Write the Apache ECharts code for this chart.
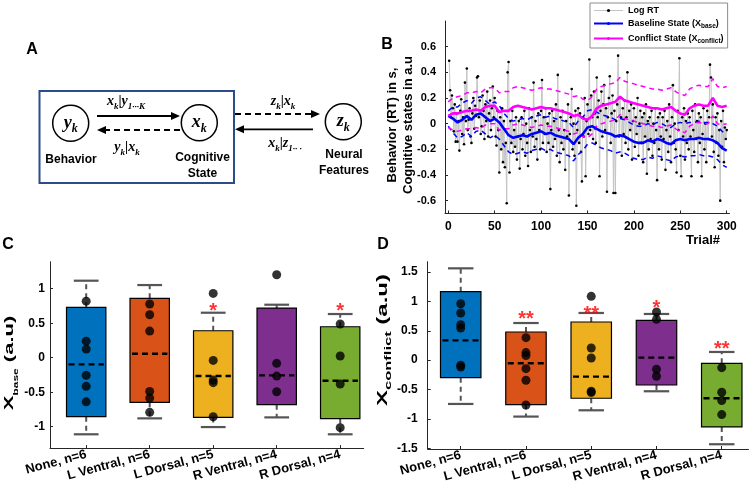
<!DOCTYPE html>
<html><head><meta charset="utf-8">
<script src="https://cdn.jsdelivr.net/npm/echarts@6/dist/echarts.min.js"></script>
<style>html,body{margin:0;padding:0;background:#fff}#c{width:750px;height:495px}</style>
</head><body><div id="c"></div>
<script>
// ---------- Panel B data ----------
const logRT = [
 0.49, 0.26, 0.05, 0.22, 0.12, -0.06, 0.15, -0.14, 0.08, -0.14,
 0.02, -0.21, 0.10, 0.19, -0.08, 0.05, -0.16, 0.32, 0.02, 0.43,
 -0.05, 0.03, 0.12, -0.10, -0.15, 0.08, 0.20, -0.04, 0.14, 0.06,
 0.36, 0.37, 0.05, 0.18, -0.08, -0.02, 0.22, 0.10, -0.12, 0.15,
 0.02, 0.25, -0.10, 0.08, 0.18, -0.05, 0.12, 0.29, 0.05, 0.20,
 -0.10, -0.17, 0.10, -0.05, -0.38, 0.05, -0.20, 0.12, -0.30, 0.02,
 -0.34, -0.15, -0.62, 0.40, 0.48, -0.38, 0.02, -0.15, 0.10, -0.22,
 -0.05, -0.18, 0.05, -0.28, -0.10, 0.02, -0.35, -0.12, 0.05, -0.20,
 -0.08, 0.10, -0.25, 0.00, -0.15, -0.33, 0.12, -0.05, -0.22, 0.05,
 -0.10, 0.32, -0.18, 0.02, -0.12, -0.28, 0.08, -0.05, -0.20, 0.10,
 0.34, -0.15, 0.05, -0.08, 0.12, -0.22, 0.00, -0.15, 0.08, -0.51,
 -0.05, 0.10, -0.18, 0.02, -0.12, 0.15, -0.25, 0.38, -0.05, -0.30,
 0.05, -0.15, 0.10, -0.20, -0.05, -0.36, 0.02, -0.10, 0.15, -0.56,
 -0.08, 0.05, 0.27, -0.20, 0.00, -0.25, 0.10, -0.64, -0.05, 0.12,
 -0.15, 0.08, -0.22, -0.45, 0.05, -0.10, 0.20, -0.41, 0.02, 0.15,
 -0.08, 0.50, -0.05, 0.22, 0.05, -0.12, 0.25, 0.08, -0.15, 0.36,
 0.05, 0.18, -0.41, 0.10, 0.25, -0.10, 0.15, 0.30, -0.05, 0.12,
 -0.53, 0.05, 0.20, 0.37, -0.15, 0.08, 0.22, -0.54, 0.10, -0.54,
 0.02, 0.15, 0.53, -0.10, 0.20, 0.05, -0.25, 0.12, -0.08, 0.18,
 -0.15, 0.05, 0.40, -0.20, 0.10, -0.05, 0.15, -0.28, 0.02, 0.12,
 -0.18, 0.05, -0.08, 0.20, -0.25, 0.00, 0.10, -0.15, 0.05, -0.30,
 0.08, -0.10, 0.15, -0.39, 0.02, -0.20, 0.05, -0.12, 0.10, -0.25,
 0.00, -0.15, 0.12, -0.05, -0.44, 0.05, -0.20, 0.08, -0.10, -0.28,
 0.05, -0.12, 0.10, -0.36, -0.05, 0.02, -0.22, 0.15, -0.10, -0.30,
 0.05, 0.30, -0.15, 0.00, -0.20, -0.38, 0.10, -0.05, 0.51, -0.25,
 -0.41, 0.05, -0.10, 0.12, -0.28, 0.02, -0.15, 0.08, -0.20, 0.05,
 -0.10, -0.41, 0.10, -0.05, -0.22, 0.15, -0.12, 0.02, -0.30, 0.08,
 -0.15, 0.05, -0.41, -0.08, 0.12, -0.20, 0.00, -0.30, 0.10, -0.12,
 0.05, 0.46, 0.36, -0.10, 0.15, -0.22, -0.34, 0.05, -0.15, 0.08,
 -0.25, -0.05, -0.60, 0.02, -0.18, 0.10, -0.30, -0.03, -0.12, -0.05
];
const stateTrials = [0,5,10,15,20,25,30,35,40,45,50,55,60,65,70,75,80,85,90,95,
 100,105,110,115,120,125,130,135,140,145,150,155,160,165,170,175,180,185,190,195,
 200,205,210,215,220,225,230,235,240,245,250,255,260,265,270,275,280,285,290,295,300];
const baseline = [
 0.06, 0.04, 0.01, 0.03, 0.06, 0.03, 0.07, 0.08, 0.05, 0.02,
 0.04, 0.01, -0.04, -0.09, -0.11, -0.10, -0.09, -0.10, -0.08, -0.07,
 -0.06, -0.08, -0.07, -0.09, -0.10, -0.11, -0.12, -0.16, -0.11, -0.08,
 -0.03, -0.02, -0.04, -0.06, -0.07, -0.08, -0.10, -0.09, -0.10, -0.12,
 -0.14, -0.15, -0.15, -0.13, -0.14, -0.12, -0.13, -0.15, -0.16, -0.13,
 -0.12, -0.13, -0.12, -0.12, -0.11, -0.12, -0.12, -0.13, -0.15, -0.19, -0.21];
const baseUpper = [
 0.10, 0.13, 0.13, 0.16, 0.18, 0.16, 0.20, 0.21, 0.18, 0.15,
 0.17, 0.14, 0.08, 0.04, 0.02, 0.03, 0.04, 0.03, 0.05, 0.06,
 0.07, 0.05, 0.06, 0.04, 0.03, 0.02, 0.01, -0.03, 0.02, 0.05,
 0.10, 0.11, 0.09, 0.07, 0.06, 0.05, 0.03, 0.04, 0.03, 0.01,
 -0.01, -0.02, -0.02, 0.00, -0.01, 0.01, 0.00, -0.02, -0.03, 0.00,
 0.01, 0.00, 0.01, 0.01, 0.02, 0.01, 0.01, 0.00, -0.02, -0.06, -0.08];
const baseLower = [
 -0.02, -0.07, -0.11, -0.10, -0.07, -0.10, -0.06, -0.05, -0.08, -0.11,
 -0.09, -0.12, -0.17, -0.22, -0.24, -0.23, -0.22, -0.23, -0.21, -0.20,
 -0.19, -0.21, -0.20, -0.22, -0.23, -0.24, -0.25, -0.29, -0.24, -0.21,
 -0.16, -0.15, -0.17, -0.19, -0.20, -0.21, -0.23, -0.22, -0.23, -0.25,
 -0.27, -0.28, -0.28, -0.26, -0.27, -0.25, -0.26, -0.28, -0.29, -0.26,
 -0.25, -0.26, -0.25, -0.25, -0.24, -0.25, -0.25, -0.26, -0.28, -0.32, -0.34];
const conflict = [
 0.06, 0.08, 0.08, 0.09, 0.10, 0.10, 0.11, 0.10, 0.13, 0.14,
 0.14, 0.09, 0.10, 0.10, 0.13, 0.14, 0.13, 0.12, 0.11, 0.12,
 0.13, 0.12, 0.12, 0.11, 0.10, 0.09, 0.08, 0.06, 0.07, 0.04,
 0.03, 0.06, 0.12, 0.14, 0.15, 0.16, 0.17, 0.21, 0.18, 0.17,
 0.16, 0.15, 0.14, 0.13, 0.12, 0.12, 0.11, 0.12, 0.13, 0.10,
 0.08, 0.07, 0.12, 0.14, 0.15, 0.14, 0.14, 0.20, 0.14, 0.13, 0.14];
const conflictUpper = [
 0.17, 0.20, 0.21, 0.22, 0.24, 0.24, 0.25, 0.24, 0.27, 0.28,
 0.28, 0.24, 0.25, 0.25, 0.28, 0.29, 0.28, 0.27, 0.26, 0.27,
 0.28, 0.27, 0.27, 0.26, 0.25, 0.24, 0.23, 0.21, 0.22, 0.19,
 0.18, 0.21, 0.27, 0.29, 0.30, 0.31, 0.32, 0.36, 0.33, 0.32,
 0.31, 0.30, 0.29, 0.28, 0.27, 0.27, 0.26, 0.27, 0.28, 0.25,
 0.23, 0.22, 0.27, 0.29, 0.30, 0.29, 0.29, 0.35, 0.29, 0.28, 0.29];
const conflictLower = [
 -0.03, -0.05, -0.06, -0.05, -0.04, -0.04, -0.03, -0.04, -0.01, 0.00,
 0.00, -0.05, -0.04, -0.04, -0.01, 0.00, -0.01, -0.02, -0.03, -0.02,
 -0.01, -0.02, -0.02, -0.03, -0.04, -0.05, -0.06, -0.08, -0.07, -0.10,
 -0.11, -0.08, -0.02, 0.00, 0.01, 0.02, 0.03, 0.07, 0.04, 0.03,
 0.02, 0.01, 0.00, -0.01, -0.02, -0.02, -0.03, -0.02, -0.01, -0.04,
 -0.06, -0.07, -0.02, 0.00, 0.01, 0.00, 0.00, 0.06, 0.00, -0.01, 0.00];
const trialTicks = [0, 50, 100, 150, 200, 250, 300];
const rtTicks = [-0.6, -0.4, -0.2, 0, 0.2, 0.4, 0.6];

// ---------- Panels C / D data ----------
const groups = ['None, n=6', 'L Ventral, n=6', 'L Dorsal, n=5', 'R Ventral, n=4', 'R Dorsal, n=4'];
const groupColors = ['#0072BD', '#D95319', '#EDB120', '#7E2F8E', '#77AC30'];
const baseCapHigh = [1.116, 1.053, 0.652, 0.768, 0.633];
const baseQ3      = [0.73, 0.86, 0.391, 0.72, 0.449];
const baseMedian  = [-0.097, 0.058, -0.266, -0.256, -0.333];
const baseQ1      = [-0.855, -0.647, -0.865, -0.681, -0.884];
const baseCapLow  = [-1.11, -0.879, -1.005, -0.865, -1.11];
const baseDots = [[0.82, 0.24, 0.125, -0.256, -0.415, -0.64],
                  [0.778, 0.623, 0.386, -0.488, -0.585, -0.792],
                  [0.932, -0.039, -0.324, -0.362, -0.855],
                  [1.203, -0.082, -0.266, -0.493],
                  [0.488, 0.024, -0.382, -1.014]];
const baseStars = ['', '', '*', '', '*'];
const baseStarY = [0, 0, 0.75, 0, 0.75];
const baseTicks = [-1, -0.5, 0, 0.5, 1];

const confCapHigh = [1.563, 0.632, 0.803, 0.786, 0.139];
const confQ3      = [1.166, 0.479, 0.649, 0.678, -0.054];
const confMedian  = [0.337, -0.054, -0.281, 0.043, -0.649];
const confQ1      = [-0.298, -0.757, -0.649, -0.423, -1.137];
const confCapLow  = [-0.746, -0.961, -0.854, -0.530, -1.432];
const confDots = [[0.961, 0.803, 0.604, 0.547, -0.088, -0.116],
                  [0.383, 0.128, 0.077, -0.145, -0.343, -0.763],
                  [1.086, 0.207, 0.037, -0.530, -0.553],
                  [0.820, 0.695, -0.156, -0.275],
                  [-0.128, -0.547, -0.689, -0.927]];
const confStars = ['', '**', '**', '*', '**'];
const confStarY = [0, 0.786, 0.876, 0.978, 0.286];
const confTicks = [-1.5, -1, -0.5, 0, 0.5, 1, 1.5];

// ---------- build ----------
const SANS = 'Liberation Sans, Arial, sans-serif';
const SERIF = 'Liberation Serif, Times New Roman, serif';
const AX = '#262626';

function boxItems(lo, q1, med, q3, hi) {
  return groups.map((g, i) => [i + 1, lo[i], q1[i], med[i], q3[i], hi[i], i]);
}
function renderBox(params, api) {
  const x = api.value(0);
  const pLo = api.coord([x, api.value(1)]);
  const pQ1 = api.coord([x, api.value(2)]);
  const pMed = api.coord([x, api.value(3)]);
  const pQ3 = api.coord([x, api.value(4)]);
  const pHi = api.coord([x, api.value(5)]);
  const bw = api.size([0.62, 0])[0];
  const cw = api.size([0.39, 0])[0];
  const col = groupColors[api.value(6)];
  const cx = pMed[0];
  const wStyle = {stroke: '#555', lineWidth: 2, lineDash: [5, 4]};
  return {type: 'group', children: [
    {type: 'line', shape: {x1: cx, y1: pQ3[1], x2: cx, y2: pHi[1]}, style: wStyle},
    {type: 'line', shape: {x1: cx, y1: pQ1[1], x2: cx, y2: pLo[1]}, style: wStyle},
    {type: 'line', shape: {x1: cx - cw / 2, y1: pHi[1], x2: cx + cw / 2, y2: pHi[1]}, style: {stroke: '#555', lineWidth: 2.2}},
    {type: 'line', shape: {x1: cx - cw / 2, y1: pLo[1], x2: cx + cw / 2, y2: pLo[1]}, style: {stroke: '#555', lineWidth: 2.2}},
    {type: 'rect', shape: {x: cx - bw / 2, y: pQ3[1], width: bw, height: pQ1[1] - pQ3[1]},
      style: {fill: col, stroke: echarts.color.modifyHSL(col, null, null, -0.06), lineWidth: 1.2}},
    {type: 'line', shape: {x1: cx - bw / 2 + 2, y1: pMed[1], x2: cx + bw / 2 - 2, y2: pMed[1]},
      style: {stroke: '#000', lineWidth: 2.4, lineDash: [6, 4]}}
  ]};
}
function dotData(dots) {
  const out = [];
  dots.forEach((arr, i) => arr.forEach(v => out.push([i + 1, v])));
  return out;
}
function starData(stars, ys) {
  const out = [];
  stars.forEach((s, i) => { if (s) out.push([i + 1, ys[i], s]); });
  return out;
}

const chart = echarts.init(document.getElementById('c'), null, {renderer: 'canvas'});

const lblStyle = {color: '#000', fontFamily: SANS, fontWeight: 'bold'};
function catAxis(gi, min, max) {
  return {gridIndex: gi, type: 'value', min: min, max: max, splitLine: {show: false},
    axisLine: {onZero: false, lineStyle: {color: AX}},
    axisTick: {inside: true, length: 3, customValues: [1, 2, 3, 4, 5], lineStyle: {color: AX}},
    axisLabel: {customValues: [1, 2, 3, 4, 5], rotate: 15, margin: 6, fontSize: 13, ...lblStyle,
      formatter: v => groups[Math.round(v) - 1] || ''}};
}
function valAxis(gi, min, max, ticks, margin) {
  return {gridIndex: gi, type: 'value', min: min, max: max, splitLine: {show: false},
    axisLine: {show: true, onZero: false, lineStyle: {color: AX}},
    axisTick: {show: true, inside: true, length: 3, customValues: ticks, lineStyle: {color: AX}},
    axisLabel: {customValues: ticks, fontSize: 12, margin: margin, ...lblStyle,
      formatter: v => (Math.abs(v) < 1e-9 ? '0' : String(v))}};
}

const option = {
  animation: false,
  backgroundColor: '#fff',
  grid: [
    {left: 445, top: 21, width: 284.5, height: 192.5, containLabel: false, outerBoundsMode: 'none'},
    {left: 50, top: 261.8, width: 313.7, height: 186.3, containLabel: false, outerBoundsMode: 'none'},
    {left: 427.7, top: 261.7, width: 320.8, height: 187.3, containLabel: false, outerBoundsMode: 'none'}
  ],
  xAxis: [
    {gridIndex: 0, type: 'value', min: -3.5, max: 303, splitLine: {show: false},
      axisLine: {onZero: false, lineStyle: {color: AX}},
      axisTick: {inside: true, length: 3, customValues: trialTicks, lineStyle: {color: AX}},
      axisLabel: {customValues: trialTicks, fontSize: 12, margin: 7, ...lblStyle}},
    catAxis(1, 0.43, 5.37),
    catAxis(2, 0.494, 5.41)
  ],
  yAxis: [
    {gridIndex: 0, type: 'value', min: -0.7, max: 0.8, splitLine: {show: false},
      axisLine: {show: true, onZero: false, lineStyle: {color: AX}},
      axisTick: {show: true, inside: true, length: 3, customValues: rtTicks, lineStyle: {color: AX}},
      axisLabel: {customValues: rtTicks, fontSize: 11, margin: 9, ...lblStyle,
        formatter: v => (Math.abs(v) < 1e-9 ? '0' : String(+v.toFixed(1)))}},
    valAxis(1, -1.31, 1.39, baseTicks, 5),
    valAxis(2, -1.513, 1.676, confTicks, 10)
  ],
  legend: {
    left: 590, top: 3, orient: 'vertical', itemGap: 4, itemWidth: 29, itemHeight: 4,
    padding: [3, 4, 3, 3], borderColor: '#8c8c8c', borderWidth: 1, backgroundColor: '#fff',
    data: [{name: 'Log RT', itemStyle: {color: '#000'}, lineStyle: {color: '#c4c4c4', width: 1}},
           'Baseline State', 'Conflict State'],
    formatter: name => name === 'Log RT' ? '{n|Log RT}' :
      name === 'Baseline State' ? '{n|Baseline State (X}{s|base}{n|)}' : '{n|Conflict State (X}{s|conflict}{n|)}',
    textStyle: {fontSize: 9, fontWeight: 'bold', fontFamily: SANS, color: '#000', rich: {
      n: {fontSize: 9, fontWeight: 'bold', fontFamily: SANS, color: '#000', lineHeight: 13},
      s: {fontSize: 6.5, fontWeight: 'bold', fontFamily: SANS, color: '#000', lineHeight: 6.5, verticalAlign: 'bottom'}}}
  },
  series: [
    {name: 'Log RT', type: 'line', xAxisIndex: 0, yAxisIndex: 0, data: logRT.map((v, i) => [i + 1, v]),
      lineStyle: {color: '#c4c4c4', width: 1}, itemStyle: {color: '#000'}, symbol: 'circle', symbolSize: 2.6,
      showAllSymbol: true, z: 1},
    {name: 'bu', type: 'line', xAxisIndex: 0, yAxisIndex: 0, data: stateTrials.map((t, i) => [t, baseUpper[i]]),
      showSymbol: false, lineStyle: {color: '#0000ff', width: 1.5, type: [5, 4]}, z: 2},
    {name: 'bl', type: 'line', xAxisIndex: 0, yAxisIndex: 0, data: stateTrials.map((t, i) => [t, baseLower[i]]),
      showSymbol: false, lineStyle: {color: '#0000ff', width: 1.5, type: [5, 4]}, z: 2},
    {name: 'cu', type: 'line', xAxisIndex: 0, yAxisIndex: 0, data: stateTrials.map((t, i) => [t, conflictUpper[i]]),
      showSymbol: false, lineStyle: {color: '#ff00ff', width: 1.5, type: [5, 4]}, z: 2},
    {name: 'cl', type: 'line', xAxisIndex: 0, yAxisIndex: 0, data: stateTrials.map((t, i) => [t, conflictLower[i]]),
      showSymbol: false, lineStyle: {color: '#ff00ff', width: 1.5, type: [5, 4]}, z: 2},
    {name: 'Baseline State', type: 'line', xAxisIndex: 0, yAxisIndex: 0, data: stateTrials.map((t, i) => [t, baseline[i]]),
      showSymbol: false, symbol: 'none', lineStyle: {color: '#0000ff', width: 2.6}, itemStyle: {color: '#0000ff'}, z: 3},
    {name: 'Conflict State', type: 'line', xAxisIndex: 0, yAxisIndex: 0, data: stateTrials.map((t, i) => [t, conflict[i]]),
      showSymbol: false, symbol: 'none', lineStyle: {color: '#ff00ff', width: 2.6}, itemStyle: {color: '#ff00ff'}, z: 3},

    {type: 'custom', xAxisIndex: 1, yAxisIndex: 1, renderItem: renderBox,
      encode: {x: 0, y: [1, 2, 3, 4, 5]}, data: boxItems(baseCapLow, baseQ1, baseMedian, baseQ3, baseCapHigh), z: 2},
    {type: 'scatter', xAxisIndex: 1, yAxisIndex: 1, data: dotData(baseDots), symbolSize: 9,
      itemStyle: {color: '#000'}, z: 4},
    {type: 'scatter', xAxisIndex: 1, yAxisIndex: 1, data: starData(baseStars, baseStarY), symbolSize: 1,
      itemStyle: {color: 'rgba(0,0,0,0)'}, z: 5,
      label: {show: true, position: 'inside', offset: [0, 6], formatter: p => p.value[2], color: '#ff0000',
        fontSize: 20, fontWeight: 'bold', fontFamily: SANS}},

    {type: 'custom', xAxisIndex: 2, yAxisIndex: 2, renderItem: renderBox,
      encode: {x: 0, y: [1, 2, 3, 4, 5]}, data: boxItems(confCapLow, confQ1, confMedian, confQ3, confCapHigh), z: 2},
    {type: 'scatter', xAxisIndex: 2, yAxisIndex: 2, data: dotData(confDots), symbolSize: 9,
      itemStyle: {color: '#000'}, z: 4},
    {type: 'scatter', xAxisIndex: 2, yAxisIndex: 2, data: starData(confStars, confStarY), symbolSize: 1,
      itemStyle: {color: 'rgba(0,0,0,0)'}, z: 5,
      label: {show: true, position: 'inside', offset: [0, 6], formatter: p => p.value[2], color: '#ff0000',
        fontSize: 20, fontWeight: 'bold', fontFamily: SANS}}
  ],
  graphic: []
};

// ---------- Panel A diagram, axis titles & panel letters ----------
const g = [];
function txt(x, y, text, size, extra) {
  g.push({type: 'text', x: x, y: y, silent: true, style: Object.assign({text: text, fill: '#000',
    font: 'bold ' + size + 'px ' + SANS, align: 'center', verticalAlign: 'middle'}, extra || {})});
}
function mathTxt(x, y, text, size) {
  g.push({type: 'text', x: x, y: y, silent: true, style: {text: text, fill: '#000', align: 'center', verticalAlign: 'middle',
    rich: {
      m: {fontFamily: SERIF, fontStyle: 'italic', fontWeight: 'bold', fontSize: size, lineHeight: size + 6, fill: '#000'},
      r: {fontFamily: SERIF, fontWeight: 'bold', fontSize: size, lineHeight: size + 6, fill: '#000'},
      s: {fontFamily: SERIF, fontStyle: 'italic', fontWeight: 'bold', fontSize: Math.round(size * 0.65), lineHeight: Math.round(size * 0.65), verticalAlign: 'bottom', fill: '#000'}
    }}});
}
function vTitle(x, y, sub, mainSize, subSize, sy) {
  g.push({type: 'text', x: x, y: y, rotation: Math.PI / 2, scaleY: sy, silent: true, style: {
    text: '{b|X}{s|' + sub + '}{b| (a.u)}', fill: '#000', align: 'center', verticalAlign: 'middle',
    rich: {
      b: {fontFamily: SANS, fontWeight: 'bold', fontSize: mainSize, lineHeight: mainSize + 12, fill: '#000'},
      s: {fontFamily: SANS, fontWeight: 'bold', fontSize: subSize, lineHeight: subSize, verticalAlign: 'bottom', fill: '#000'}
    }}});
}
function arrow(x1, y1, x2, y2, dashed) {
  g.push({type: 'line', silent: true, shape: {x1: x1, y1: y1, x2: x2 - Math.sign(x2 - x1) * 6, y2: y2},
    style: {stroke: '#000', lineWidth: 1.8, lineDash: dashed ? [6, 4] : null}});
  const d = Math.sign(x2 - x1);
  g.push({type: 'polygon', silent: true, shape: {points: [[x2, y2], [x2 - d * 9, y2 - 4], [x2 - d * 9, y2 + 4]]},
    style: {fill: '#000'}});
}
g.push({type: 'rect', silent: true, shape: {x: 39.5, y: 91, width: 194.5, height: 92},
  style: {fill: 'none', stroke: '#2b4b8a', lineWidth: 2}});
[[70.7, 123.3], [199.3, 122.7], [343.3, 121.7]].forEach(c => g.push({type: 'circle', silent: true,
  shape: {cx: c[0], cy: c[1], r: 18}, style: {fill: '#fff', stroke: '#000', lineWidth: 1.5}}));
mathTxt(70.7, 123.3, '{m|y}{s|k}', 18);
mathTxt(199.3, 122.7, '{m|x}{s|k}', 18);
mathTxt(343.3, 121.7, '{m|z}{s|k}', 18);
arrow(97, 116, 180, 116, false);
arrow(180, 130, 97, 130, true);
arrow(235, 114, 320, 114, true);
arrow(313, 129.3, 235, 129.3, false);
mathTxt(126, 101.5, '{m|x}{s|k}{r||}{m|y}{s|1···K}', 14);
mathTxt(127, 147, '{m|y}{s|k}{r||}{m|x}{s|k}', 14);
mathTxt(283, 101.5, '{m|z}{s|k}{r||}{m|x}{s|k}', 14);
mathTxt(285, 143, '{m|x}{s|k}{r||}{m|z}{s|1·· ·}', 14);
txt(71, 160, 'Behavior', 12);
txt(202.5, 158, 'Cognitive', 12);
txt(202.5, 173.5, 'State', 12);
txt(344, 155, 'Neural', 12);
txt(344, 170.5, 'Features', 12);
txt(32, 50, 'A', 16);
txt(387, 45, 'B', 16);
txt(8, 245, 'C', 16);
txt(383, 245, 'D', 16);
txt(703, 240, 'Trial#', 13);
g.push({type: 'text', x: 400, y: 125, rotation: Math.PI / 2, silent: true, style: {
  text: 'Behavior (RT) in s,\nCognitive states in a.u', fill: '#000', align: 'center', verticalAlign: 'middle',
  font: 'bold 13px ' + SANS, lineHeight: 16}});
vTitle(9, 363, 'base', 22, 12, 0.62);
vTitle(383, 340, 'conflict', 24, 16.5, 0.6);
option.graphic = g;

chart.setOption(option);
</script>
</body></html>
